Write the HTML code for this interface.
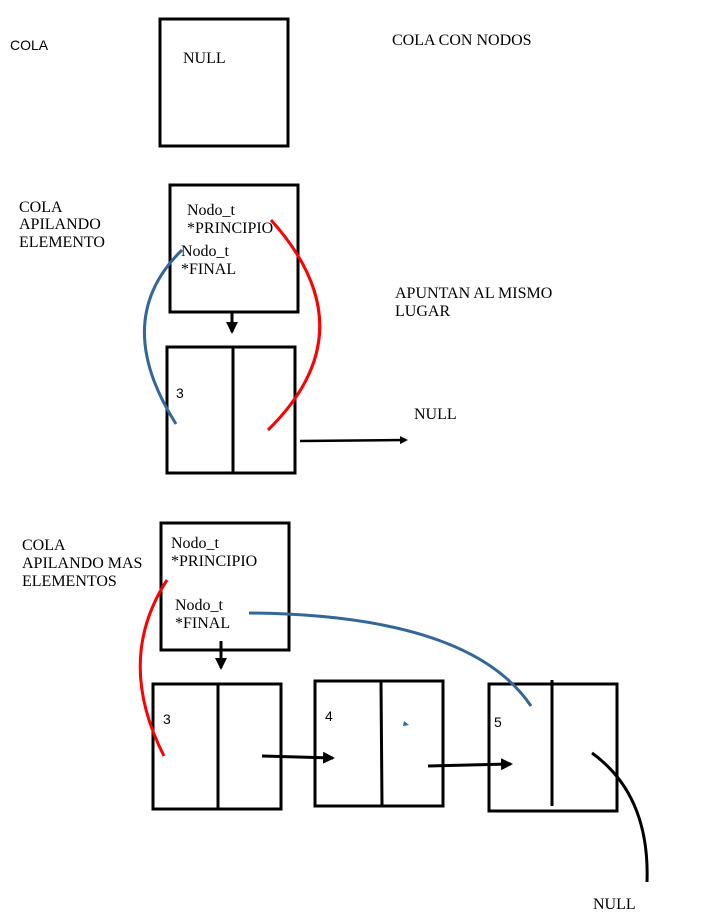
<!DOCTYPE html>
<html><head><style>body{margin:0;background:#fff}svg{display:block}</style></head><body>
<svg width="709" height="919" xmlns="http://www.w3.org/2000/svg" font-family="Liberation Serif, serif" font-size="16">
<defs><marker id="a" markerWidth="8" markerHeight="8" refX="6" refY="4" orient="auto" markerUnits="userSpaceOnUse"><path d="M0,0 L8,4 L0,8 z" fill="#000"/></marker>
<marker id="b" markerWidth="12" markerHeight="12" refX="10" refY="6" orient="auto" markerUnits="userSpaceOnUse"><path d="M0,0 L12,6 L0,12 z" fill="#000"/></marker></defs>
<g fill="none" stroke="#000" stroke-width="3">
<rect x="160" y="19" width="128" height="127"/>
<rect x="170" y="185" width="128" height="127"/>
<rect x="167" y="347" width="128" height="126"/><line x1="233" y1="347" x2="233" y2="473"/>
<rect x="161" y="523" width="128" height="127"/>
<rect x="153" y="684" width="128" height="125"/><line x1="218" y1="684" x2="218" y2="809"/>
<rect x="315" y="681" width="128" height="125"/><line x1="381" y1="681" x2="382" y2="806"/>
<rect x="489" y="684" width="128" height="127"/><line x1="552" y1="680" x2="552" y2="806"/>
<line x1="232" y1="312" x2="232" y2="332" marker-end="url(#b)"/>
<line x1="221" y1="641" x2="221" y2="668" marker-end="url(#b)"/>
<line x1="300" y1="441" x2="406" y2="440" stroke-width="2.5" marker-end="url(#a)"/>
<line x1="262" y1="756" x2="333" y2="758" marker-end="url(#b)"/>
<line x1="428" y1="766" x2="511" y2="764" marker-end="url(#b)"/>
<path d="M592,753 Q650,795 647,882"/>
</g>
<g fill="none" stroke-width="3">
<path d="M182,250 Q110,320 176,424" stroke="#336699"/>
<path d="M271,220 Q370,330 268,430" stroke="#ff0000"/>
<path d="M167,580 Q115,660 164,756" stroke="#ff0000"/>
<path d="M249,613 Q470,615 531,706" stroke="#336699"/>
</g>
<path d="M404,721 L409,725 L403,726 z" fill="#336699"/>
<g fill="#000">
<text x="10" y="50" font-family="Liberation Sans, sans-serif" font-size="14">COLA</text>
<text x="183" y="63">NULL</text>
<text x="392" y="45">COLA CON NODOS</text>
<text x="19" y="212">COLA</text><text x="19" y="229">APILANDO</text><text x="19" y="247">ELEMENTO</text>
<text x="187" y="215">Nodo_t</text><text x="187" y="233">*PRINCIPIO</text>
<text x="181" y="256">Nodo_t</text><text x="181" y="274">*FINAL</text>
<text x="176" y="398" font-family="Liberation Sans, sans-serif" font-size="14">3</text>
<text x="395" y="298">APUNTAN AL MISMO</text><text x="395" y="316">LUGAR</text>
<text x="414" y="419">NULL</text>
<text x="22" y="550">COLA</text><text x="22" y="568">APILANDO MAS</text><text x="22" y="586">ELEMENTOS</text>
<text x="171" y="548">Nodo_t</text><text x="171" y="566">*PRINCIPIO</text>
<text x="175" y="610">Nodo_t</text><text x="175" y="628">*FINAL</text>
<text x="163" y="724" font-family="Liberation Sans, sans-serif" font-size="14">3</text>
<text x="325" y="721" font-family="Liberation Sans, sans-serif" font-size="14">4</text>
<text x="494" y="727" font-family="Liberation Sans, sans-serif" font-size="14">5</text>
<text x="593" y="909">NULL</text>
</g>
</svg>
</body></html>
